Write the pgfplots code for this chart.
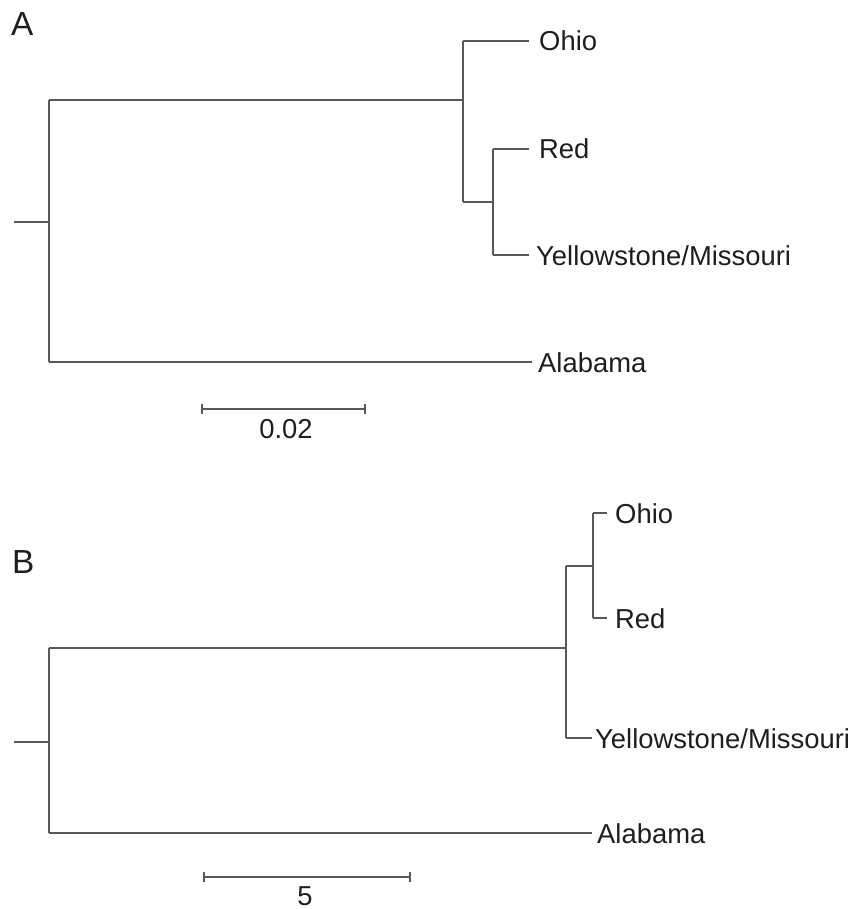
\documentclass[border=0pt]{standalone}
\usepackage{pgfplots}
\pgfplotsset{compat=1.18}
\usepackage{fontspec}
\setmainfont{Liberation Sans}
\definecolor{tree}{RGB}{88,88,88}
\definecolor{txt}{RGB}{30,30,30}
\tikzset{lbl/.style={anchor=base west, inner sep=0pt, text=txt, font=\fontsize{27.5}{30}\selectfont},
  treeline/.style={tree, line width=1.3bp, mark=none}}
\begin{document}
\begin{tikzpicture}
\begin{axis}[
  scale only axis, width=852bp, height=909bp,
  xmin=0, xmax=852, ymin=0, ymax=909, y dir=reverse,
  hide axis, clip=false, unbounded coords=jump,
]
\path (axis cs:0,0) rectangle (axis cs:852,909);
% Tree A (distance)
\addplot[treeline] coordinates {
 (14,222) (49,222) (nan,nan)
 (49,100) (49,362) (nan,nan)
 (49,100) (463,100) (nan,nan)
 (463,41) (463,202) (nan,nan)
 (463,41) (529,41) (nan,nan)
 (463,202) (493,202) (nan,nan)
 (493,149) (493,255) (nan,nan)
 (493,149) (529,149) (nan,nan)
 (493,255) (529,255) (nan,nan)
 (49,362) (532,362)
};
% scale bar A
\addplot[treeline] coordinates {
 (202,409) (365,409) (nan,nan)
 (202,404) (202,414) (nan,nan)
 (365,404) (365,414)
};
% Tree B
\addplot[treeline] coordinates {
 (14,742) (49,742) (nan,nan)
 (49,648) (49,833) (nan,nan)
 (49,648) (566,648) (nan,nan)
 (566,566) (566,738) (nan,nan)
 (566,566) (593,566) (nan,nan)
 (593,513) (593,618) (nan,nan)
 (593,513) (607,513) (nan,nan)
 (593,618) (607,618) (nan,nan)
 (566,738) (592,738) (nan,nan)
 (49,833) (592,833)
};
% scale bar B
\addplot[treeline] coordinates {
 (204,877) (410,877) (nan,nan)
 (204,872) (204,882) (nan,nan)
 (410,872) (410,882)
};
% labels A
\node[lbl, font=\fontsize{33.5}{36}\selectfont] at (axis cs:11,36) {A};
\node[lbl] at (axis cs:539,51) {Ohio};
\node[lbl] at (axis cs:539,159) {Red};
\node[lbl] at (axis cs:536,265) {Yellowstone/Missouri};
\node[lbl] at (axis cs:538,372) {Alabama};
\node[lbl, anchor=base] at (axis cs:286,438) {0.02};
% labels B
\node[lbl, font=\fontsize{33.5}{36}\selectfont] at (axis cs:12,573) {B};
\node[lbl] at (axis cs:615,523) {Ohio};
\node[lbl] at (axis cs:615,628) {Red};
\node[lbl] at (axis cs:595,748) {Yellowstone/Missouri};
\node[lbl] at (axis cs:597,843) {Alabama};
\node[lbl, anchor=base] at (axis cs:305,905) {5};
\end{axis}
\end{tikzpicture}
\end{document}
